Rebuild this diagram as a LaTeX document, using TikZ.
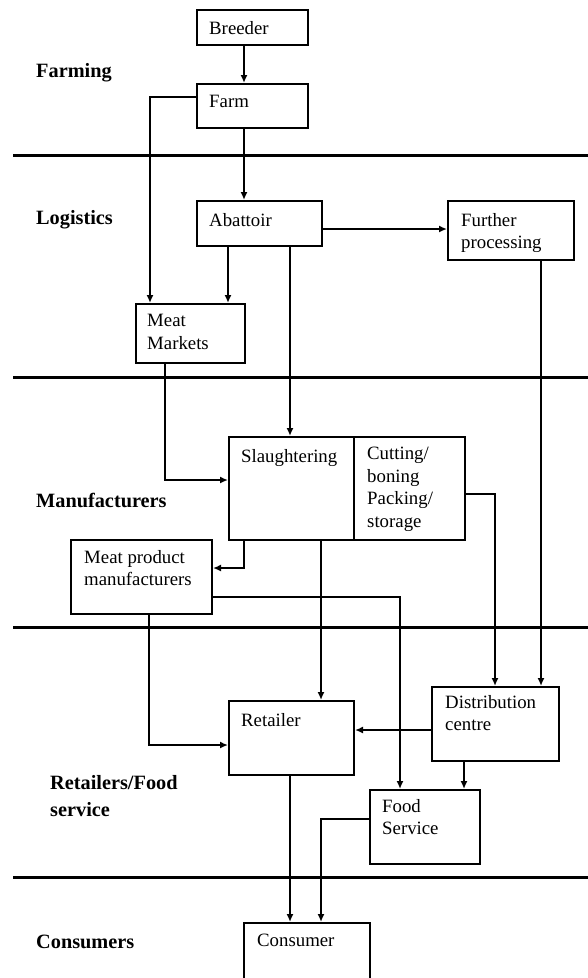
\documentclass[tikz,border=0pt]{standalone}
\usepackage{fontspec}
\setmainfont{Liberation Serif}
\usetikzlibrary{arrows.meta}
\begin{document}
\begin{tikzpicture}[x=1pt,y=-1pt,
  box/.style={draw, line width=2pt, inner sep=0pt, anchor=north west},
  txt/.style={anchor=north west, inner sep=0pt, align=left, font=\fontsize{18.8}{22.5}\selectfont},
  lab/.style={anchor=west, inner sep=0pt, align=left, font=\fontsize{20.3}{27}\selectfont\bfseries},
  sep/.style={line width=3pt},
  conn/.style={line width=2pt, -{Latex[length=8pt,width=7pt]}},
]
\clip (0,0) rectangle (588,978);
\fill[white] (0,0) rectangle (588,978);

% separators
\draw[sep] (13,155) -- (588,155);
\draw[sep] (13,377) -- (588,377);
\draw[sep] (13,627) -- (588,627);
\draw[sep] (13,877) -- (588,877);

% row labels
\node[lab] (l1) at (36,73) {Farming};
\node[lab] (l2) at (36,220) {Logistics};
\node[lab] (l3) at (36,500) {Manufacturers};
\node[lab] (l4) at (50,796) {Retailers/Food\\service};
\node[lab] (l5) at (36,942) {Consumers};

% boxes
\node[box, minimum width=111pt, minimum height=35pt] (breeder) at (196,9) {};
\node[box, minimum width=111pt, minimum height=44pt] (farm) at (196,83) {};
\node[box, minimum width=125pt, minimum height=45pt] (abattoir) at (196,200) {};
\node[box, minimum width=126pt, minimum height=59pt] (further) at (447,200) {};
\node[box, minimum width=109pt, minimum height=59pt] (markets) at (135,303) {};
\node[box, minimum width=125pt, minimum height=103pt] (slaughter) at (228,436) {};
\node[box, minimum width=111pt, minimum height=103pt] (cutting) at (353,436) {};
\node[box, minimum width=141pt, minimum height=74pt] (mpm) at (70,539) {};
\node[box, minimum width=125pt, minimum height=74pt] (retailer) at (228,700) {};
\node[box, minimum width=127pt, minimum height=74pt] (dist) at (431,686) {};
\node[box, minimum width=110pt, minimum height=74pt] (food) at (369,789) {};
\node[box, minimum width=126pt, minimum height=100pt] (consumer) at (243,922) {};

% box texts
\node[txt] (breeder-t) at ([shift={(13,12)}]breeder.north west) {Breeder};
\node[txt] (farm-t) at ([shift={(13,12)}]farm.north west) {Farm};
\node[txt] (abattoir-t) at ([shift={(13,13)}]abattoir.north west) {Abattoir};
\node[txt] (further-t) at ([shift={(14,13)}]further.north west) {Further\\processing};
\node[txt] (markets-t) at ([shift={(12,11)}]markets.north west) {Meat\\Markets};
\node[txt] (slaughter-t) at ([shift={(13,13)}]slaughter.north west) {Slaughtering};
\node[txt] (cutting-t) at ([shift={(14,11)}]cutting.north west) {Cutting/\\boning\\Packing/\\storage};
\node[txt] (mpm-t) at ([shift={(14,11)}]mpm.north west) {Meat product\\manufacturers};
\node[txt] (retailer-t) at ([shift={(13,13)}]retailer.north west) {Retailer};
\node[txt] (dist-t) at ([shift={(14,9)}]dist.north west) {Distribution\\centre};
\node[txt] (food-t) at ([shift={(13,10)}]food.north west) {Food\\Service};
\node[txt] (consumer-t) at ([shift={(14,12)}]consumer.north west) {Consumer};

% connectors
\draw[conn] ([shift={(48,0)}]breeder.south west) -- ([shift={(48,0)}]farm.north west);
\draw[conn] ([shift={(48,0)}]farm.south west) -- ([shift={(48,0)}]abattoir.north west);
\draw[conn] ([shift={(0,14)}]farm.north west) -| ([shift={(15,0)}]markets.north west);
\draw[conn] ([shift={(32,0)}]abattoir.south west) -- ([shift={(93,0)}]markets.north west);
\coordinate (abE) at ([shift={(0,29)}]abattoir.north east);
\draw[conn] (abE) -- (abE -| further.west);
\draw[conn] ([shift={(94,0)}]abattoir.south west) -- ([shift={(62,0)}]slaughter.north west);
\draw[conn] ([shift={(94,0)}]further.south west) -- ([shift={(110,0)}]dist.north west);
\draw[conn] ([shift={(30,0)}]markets.south west) |- ([shift={(0,44)}]slaughter.north west);
\draw[conn] ([shift={(0,58)}]cutting.north east) -| ([shift={(64,0)}]dist.north west);
\draw[conn] ([shift={(16,0)}]slaughter.south west) |- ([shift={(0,29)}]mpm.north east);
\draw[conn] ([shift={(93,0)}]slaughter.south west) -- ([shift={(93,0)}]retailer.north west);
\draw[conn] ([shift={(0,58)}]mpm.north east) -| ([shift={(31,0)}]food.north west);
\draw[conn] ([shift={(79,0)}]mpm.south west) |- ([shift={(0,45)}]retailer.north west);
\coordinate (dW) at ([shift={(0,44)}]dist.north west);
\draw[conn] (dW) -- (dW -| retailer.east);
\draw[conn] ([shift={(33,0)}]dist.south west) -- ([shift={(95,0)}]food.north west);
\draw[conn] ([shift={(62,0)}]retailer.south west) -- ([shift={(47,0)}]consumer.north west);
\draw[conn] ([shift={(0,30)}]food.north west) -| ([shift={(78,0)}]consumer.north west);
\end{tikzpicture}
\end{document}
